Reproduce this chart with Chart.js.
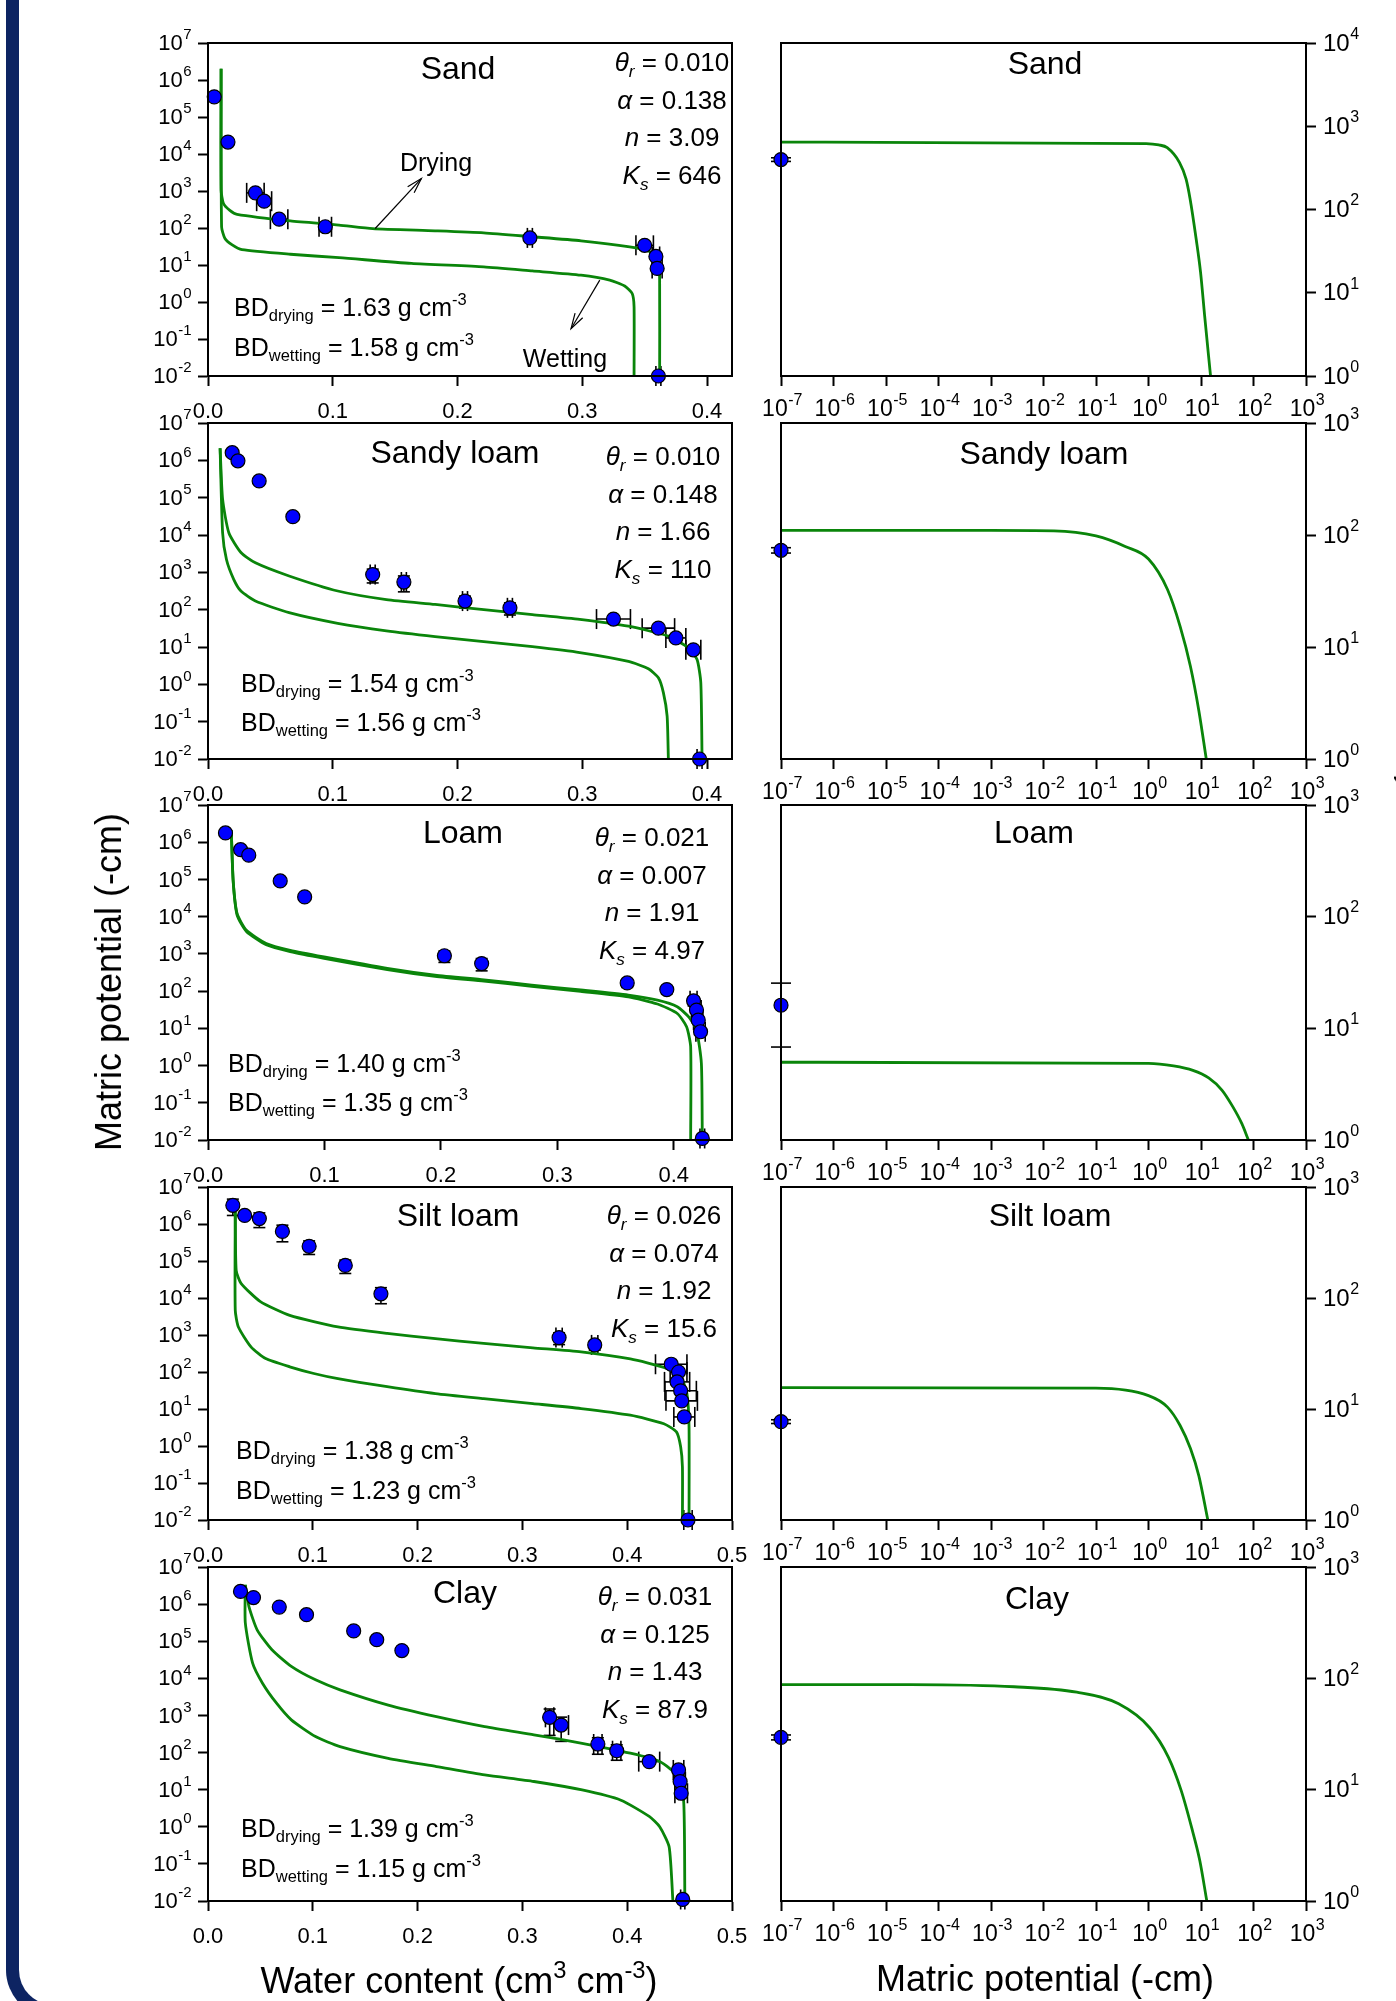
<!DOCTYPE html>
<html><head><meta charset="utf-8">
<script src="https://cdn.jsdelivr.net/npm/chart.js@4.4.1/dist/chart.umd.min.js"></script>
<style>
html,body{margin:0;padding:0;background:#fff;}
body{width:1396px;height:2001px;position:relative;overflow:hidden;font-family:'Liberation Sans',Arial,sans-serif;color:#000;}
canvas{position:absolute;}
.t{position:absolute;white-space:nowrap;line-height:1;}
.t sub{font-size:0.66em;vertical-align:-0.35em;line-height:0;}
.t sup{font-size:0.66em;vertical-align:0.65em;line-height:0;}
.frame{position:absolute;left:6px;top:-60px;width:1500px;height:2078px;border-left:13px solid #0d2462;border-bottom:13px solid #0d2462;border-bottom-left-radius:48px;box-sizing:border-box;}
</style>
</head><body>
<div class="frame"></div>
<script>
// ---------------- text / parameters ----------------
const soilNames = ['Sand','Sandy loam','Loam','Silt loam','Clay'];
const thetaR = ['0.010','0.010','0.021','0.026','0.031'];
const alphaV = ['0.138','0.148','0.007','0.074','0.125'];
const nV     = ['3.09','1.66','1.91','1.92','1.43'];
const KsV    = ['646','110','4.97','15.6','87.9'];
const bdDry  = ['1.63','1.54','1.40','1.38','1.39'];
const bdWet  = ['1.58','1.56','1.35','1.23','1.15'];

// ---------------- axes ----------------
const leftXMax = [0.42,0.42,0.45,0.5,0.5];
const leftXTicksA = [0,0.1,0.2,0.3,0.4];
const leftXTicksB = [0,0.1,0.2,0.3,0.4,0.5];
const leftYTicks = [1e-2,1e-1,1e0,1e1,1e2,1e3,1e4,1e5,1e6,1e7];
const rightXTicks = [1e-7,1e-6,1e-5,1e-4,1e-3,1e-2,1e-1,1e0,1e1,1e2,1e3];
const rightYMax = [1e4,1e3,1e3,1e3,1e3];

// ---------------- Sand ----------------
const sandObsTheta = [0.005,0.016,0.038,0.045,0.057,0.094,0.258,0.350,0.359,0.360,0.361];
const sandObsPsi   = [3.5e5,2.1e4,890,530,173,108,54,34,17,8.1,0.01];
const sandObsThetaSD = [0,0,0.007,0.006,0.007,0.005,0.002,0.007,0.003,0.004,0.002];
const sandObsPsiSD   = [0,0,0,0,0,0,0,0,0,0,0];
const sandDryTheta = [0.0105,0.0105,0.0124,0.0175,0.0233,0.066,0.105,0.132,0.182,0.221,0.260,0.299,0.338,0.353,0.361,0.362,0.362];
const sandDryPsi   = [2.0e6,1050,460,300,234,155,120,96,84,74,58,45,31,24,15,3.2,0.01];
const sandWetTheta = [0.0105,0.0109,0.0136,0.0194,0.0272,0.066,0.105,0.163,0.221,0.260,0.299,0.322,0.334,0.340,0.3415,0.3415];
const sandWetPsi   = [2.0e6,107,52,35,26,19.5,15.8,11,8.9,6.9,5.3,3.9,2.7,1.7,0.74,0.01];
const sandKPsi = [1e-7,0.9,1.57,2.27,3.9,5.2,6.2,8.1,9.8,11.7,15.2];
const sandKVal = [646,620,597,553,366,232,134,44,17.7,5.4,1.0];
const sandKObs = 398, sandKObsSD = 20;

// ---------------- Sandy loam ----------------
const slObsTheta = [0.0194,0.024,0.041,0.068,0.132,0.157,0.206,0.242,0.325,0.361,0.375,0.389,0.394];
const slObsPsi   = [1.6e6,9.7e5,2.8e5,3.1e4,870,550,170,112,56,32,17.5,8.4,0.01];
const slObsThetaSD = [0,0,0,0,0.002,0.002,0.002,0.002,0.0136,0.013,0.008,0.006,0.002];
const slObsPsiSD   = [0,0,0,0,350,250,60,40,0,0,0,0,0];
const slDryTheta = [0.0097,0.0117,0.0167,0.0264,0.038,0.065,0.104,0.143,0.182,0.221,0.260,0.298,0.337,0.369,0.385,0.392,0.395,0.396];
const slDryPsi   = [2.1e6,9.1e4,1.15e4,3400,1800,800,316,186,138,100,74,55,36,19.5,9.5,4.6,1.1,0.01];
const slWetTheta = [0.0097,0.0117,0.0148,0.0206,0.0264,0.038,0.065,0.104,0.143,0.182,0.221,0.260,0.298,0.337,0.353,0.361,0.365,0.368,0.369];
const slWetPsi   = [2.1e6,1.15e4,2200,650,315,170,83,43,27,19,14,10.2,7.1,4.1,2.6,1.5,0.6,0.14,0.01];
const slKPsi = [1e-7,1e-3,0.0158,0.1,0.36,1.0,2.3,4.0,6.3,9.1,12.6];
const slKVal = [110,110,109,98,79,61,32.6,15.3,6.7,2.7,1.0];
const slKObs = 73, slKObsSD = 4;

// ---------------- Loam ----------------
const loObsTheta = [0.015,0.028,0.035,0.062,0.083,0.203,0.235,0.360,0.394,0.417,0.4195,0.421,0.423,0.4245];
const loObsPsi   = [1.78e6,6.3e5,4.5e5,9.1e4,3.4e4,890,550,166,110,55,31,16.6,8.1,0.011];
const loObsThetaSD = [0,0,0,0,0,0,0,0,0,0.003,0.004,0.004,0.004,0.002];
const loObsPsiSD   = [0,0,0,0,0,300,200,40,25,15,10,0,0,0];
const loDryTheta = [0.020,0.0216,0.025,0.033,0.050,0.0706,0.0997,0.154,0.195,0.237,0.278,0.320,0.361,0.386,0.403,0.413,0.4195,0.4237,0.4245];
const loDryPsi   = [2.1e6,9.5e4,1.2e4,4300,1900,1250,830,410,270,200,145,107,78,57,38,20,9,1.15,0.01];
const loWetTheta = [0.020,0.0216,0.025,0.033,0.050,0.0706,0.0997,0.154,0.195,0.237,0.278,0.320,0.361,0.386,0.403,0.411,0.4145,0.4145];
const loWetPsi   = [2.1e6,9e4,1.1e4,4000,1750,1150,760,380,250,185,135,98,70,45,25,11,3.2,0.01];
const loKPsi = [1e-7,1,3,7,14,25,40,60,80];
const loKVal = [4.97,4.85,4.6,4.2,3.6,2.8,2.0,1.4,1.0];
const loKObs = 16.1, loKObsSD = 9.3;

// ---------------- Silt loam ----------------
const siObsTheta = [0.0237,0.035,0.049,0.071,0.0965,0.131,0.165,0.335,0.369,0.442,0.449,0.4476,0.451,0.452,0.4545,0.458];
const siObsPsi   = [3.2e6,1.7e6,1.4e6,6.3e5,2.5e5,7.6e4,1.3e4,850,540,162,100,54,31,16.6,6.1,0.01];
const siObsThetaSD = [0,0,0,0,0,0,0,0.003,0.003,0.015,0.008,0.012,0.015,0.015,0.01,0.004];
const siObsPsiSD   = [1.5e6,0,6e5,3e5,1e5,3e4,6000,300,150,0,0,0,0,0,0,0];
const siDryTheta = [0.026,0.0269,0.0315,0.050,0.078,0.124,0.171,0.217,0.263,0.310,0.356,0.403,0.435,0.451,0.457,0.459,0.459];
const siDryPsi   = [2.1e6,5.6e4,2.5e4,8000,3400,1650,1100,800,590,450,350,225,133,74,26,3.3,0.01];
const siWetTheta = [0.026,0.026,0.029,0.041,0.055,0.078,0.101,0.124,0.171,0.217,0.263,0.310,0.356,0.403,0.435,0.447,0.451,0.4527,0.4527];
const siWetPsi   = [2.1e6,4700,1650,480,230,138,91,66,40,26,19,14,10.3,6.8,4.0,2.4,0.95,0.27,0.01];
const siKPsi = [1e-7,0.1,1,2.3,4.0,6.3,9.1,13.5];
const siKVal = [15.6,15.4,13.2,10.4,7.1,4.4,2.5,1.0];
const siKObs = 7.7, siKObsSD = 0.3;

// ---------------- Clay ----------------
const clObsTheta = [0.031,0.0434,0.068,0.094,0.139,0.161,0.185,0.326,0.337,0.372,0.390,0.421,0.449,0.4505,0.4515,0.453];
const clObsPsi   = [2.2e6,1.5e6,8.3e5,5.2e5,1.9e5,1.1e5,5.6e4,890,550,170,112,57,34,16.5,8.0,0.011];
const clObsThetaSD = [0,0,0,0,0,0,0,0.004,0.007,0.004,0.004,0.01,0.005,0.005,0.006,0.002];
const clObsPsiSD   = [0,0,0,0,0,0,0,600,350,80,50,0,0,0,0,0];
const clDryTheta = [0.0356,0.039,0.047,0.061,0.0795,0.1026,0.126,0.172,0.218,0.264,0.311,0.357,0.403,0.431,0.449,0.454,0.455];
const clDryPsi   = [3.3e6,8.7e5,2.0e5,5.9e4,2.1e4,9100,4900,1900,930,500,300,178,96,57,22,4.3,0.01];
const clWetTheta = [0.0356,0.0356,0.0425,0.052,0.0656,0.0795,0.1026,0.126,0.172,0.218,0.264,0.311,0.357,0.394,0.421,0.431,0.44,0.4436];
const clWetPsi   = [3.3e6,3.1e5,2.6e4,7400,2100,760,270,145,70,42,25,16.6,9.8,5.2,1.9,1.0,0.29,0.01];
const clKPsi = [1e-7,2.9e-5,2.75e-3,0.043,0.27,1.05,2.4,4.2,6.6,9.5,12.9];
const clKVal = [87.9,87.7,84,75,59,36,19.5,9.8,4.6,2.3,1.0];
const clKObs = 29.5, clKObsSD = 1.5;

// Sand annotation arrows (data coordinates: [theta, psi])
const sandArrowDrying = [[0.134,97],[0.171,2170]];
const sandArrowWetting = [[0.314,3.9],[0.291,0.19]];

// ---------------- assemble ----------------
const soils = [
  {obsT:sandObsTheta,obsP:sandObsPsi,obsTSD:sandObsThetaSD,obsPSD:sandObsPsiSD,dT:sandDryTheta,dP:sandDryPsi,wT:sandWetTheta,wP:sandWetPsi,kP:sandKPsi,kV:sandKVal,kO:sandKObs,kOSD:sandKObsSD,arrows:[sandArrowDrying,sandArrowWetting]},
  {obsT:slObsTheta,obsP:slObsPsi,obsTSD:slObsThetaSD,obsPSD:slObsPsiSD,dT:slDryTheta,dP:slDryPsi,wT:slWetTheta,wP:slWetPsi,kP:slKPsi,kV:slKVal,kO:slKObs,kOSD:slKObsSD,arrows:[]},
  {obsT:loObsTheta,obsP:loObsPsi,obsTSD:loObsThetaSD,obsPSD:loObsPsiSD,dT:loDryTheta,dP:loDryPsi,wT:loWetTheta,wP:loWetPsi,kP:loKPsi,kV:loKVal,kO:loKObs,kOSD:loKObsSD,arrows:[]},
  {obsT:siObsTheta,obsP:siObsPsi,obsTSD:siObsThetaSD,obsPSD:siObsPsiSD,dT:siDryTheta,dP:siDryPsi,wT:siWetTheta,wP:siWetPsi,kP:siKPsi,kV:siKVal,kO:siKObs,kOSD:siKObsSD,arrows:[]},
  {obsT:clObsTheta,obsP:clObsPsi,obsTSD:clObsThetaSD,obsPSD:clObsPsiSD,dT:clDryTheta,dP:clDryPsi,wT:clWetTheta,wP:clWetPsi,kP:clKPsi,kV:clKVal,kO:clKObs,kOSD:clKObsSD,arrows:[]}
];

// ---------------- layout (pixel positions of panels) ----------------
const ROWS = [[43,376],[423,759],[805,1140],[1187,1520],[1567,1901]];
const L_LEFT = 208, L_RIGHT = 732, R_LEFT = 781, R_RIGHT = 1306;
const FONT = "'Liberation Sans',Arial,sans-serif";
const GREEN = '#0a850a';
Chart.defaults.font.family = FONT;
Chart.defaults.color = '#000';

const zip = (a,b)=>a.map((v,i)=>({x:v,y:b[i]}));

const framePlugin = {
  id:'frameBox',
  afterDatasetsDraw(chart){
    const {ctx, chartArea:a} = chart;
    ctx.save(); ctx.strokeStyle='#000'; ctx.lineWidth=2;
    ctx.strokeRect(a.left, a.top, a.right-a.left, a.bottom-a.top);
    ctx.restore();
  }
};
// power-of-ten tick labels with a raised exponent, placed by the scale itself
const supTickPlugin = {
  id:'supTicks',
  afterDraw(chart){
    const cfg = chart.options.plugins.supTicks; if(!cfg) return;
    const ctx = chart.ctx;
    ['x','y'].forEach(key=>{
      const o = cfg[key]; const sc = chart.scales[key]; if(!o || !sc) return;
      ctx.save(); ctx.fillStyle='#000'; ctx.textBaseline='middle'; ctx.textAlign='left';
      sc.ticks.forEach(t=>{
        const e = String(Math.round(Math.log10(t.value)));
        const p = sc.getPixelForValue(t.value);
        ctx.font = `${o.size}px ${FONT}`; const wb = ctx.measureText('10').width;
        ctx.font = `${o.esize}px ${FONT}`; const we = ctx.measureText(e).width;
        let x, y;
        if(sc.isHorizontal()){ x = p - (wb+we)/2 + 1; y = sc.top + o.offset; }
        else if(sc.position==='left'){ x = sc.right - o.offset - (wb+we); y = p + 1; }
        else { x = sc.left + o.offset; y = p + 1; }
        ctx.font = `${o.size}px ${FONT}`; ctx.fillText('10', x, y);
        ctx.font = `${o.esize}px ${FONT}`; ctx.fillText(e, x+wb+0.5, y - o.size*0.4);
      });
      ctx.restore();
    });
  }
};
const errorPlugin = {
  id:'errorBars',
  beforeDatasetsDraw(chart){
    const {ctx} = chart; const xs = chart.scales.x, ys = chart.scales.y;
    ctx.save(); ctx.strokeStyle='#000'; ctx.lineWidth=1.6;
    const seg=(a,b,c,d)=>{ctx.beginPath();ctx.moveTo(a,b);ctx.lineTo(c,d);ctx.stroke();};
    chart.data.datasets.forEach(ds=>{
      if(!ds.errX && !ds.errY) return;
      const capX = ds.capX || 10, capY = ds.capY || 10;
      ds.data.forEach((p,i)=>{
        const px = xs.getPixelForValue(p.x), py = ys.getPixelForValue(p.y);
        const ex = ds.errX ? ds.errX[i] : 0, ey = ds.errY ? ds.errY[i] : 0;
        if(ex>0){
          const a = xs.getPixelForValue(p.x-ex), b = xs.getPixelForValue(p.x+ex);
          seg(a,py,b,py); seg(a,py-capX,a,py+capX); seg(b,py-capX,b,py+capX);
        }
        if(ey>0){
          let lo = p.y-ey; if(lo<=0) lo = p.y/10;
          const a = ys.getPixelForValue(lo), b = ys.getPixelForValue(p.y+ey);
          seg(px,a,px,b); seg(px-capY,a,px+capY,a); seg(px-capY,b,px+capY,b);
        }
      });
    });
    ctx.restore();
  }
};
const arrowPlugin = {
  id:'arrows',
  afterDatasetsDraw(chart){
    const list = chart.options.plugins.arrows && chart.options.plugins.arrows.list;
    if(!list || !list.length) return;
    const {ctx} = chart; const xs = chart.scales.x, ys = chart.scales.y;
    ctx.save(); ctx.strokeStyle='#000'; ctx.lineWidth=1.2;
    list.forEach(([f,t])=>{
      const x1=xs.getPixelForValue(f[0]), y1=ys.getPixelForValue(f[1]);
      const x2=xs.getPixelForValue(t[0]), y2=ys.getPixelForValue(t[1]);
      ctx.beginPath(); ctx.moveTo(x1,y1); ctx.lineTo(x2,y2); ctx.stroke();
      const ang=Math.atan2(y2-y1,x2-x1), L=16, w=0.28;
      ctx.beginPath();
      ctx.moveTo(x2-L*Math.cos(ang-w), y2-L*Math.sin(ang-w));
      ctx.lineTo(x2,y2);
      ctx.lineTo(x2-L*Math.cos(ang+w), y2-L*Math.sin(ang+w));
      ctx.stroke();
    });
    ctx.restore();
  }
};

function axisCommon(tickLen, size, pad, show){
  return {
    grid:{display:true, drawOnChartArea:false, drawTicks:true, tickLength:tickLen, tickWidth:2, tickColor:'#000'},
    border:{display:true, color:'#000', width:2},
    ticks:{display:show, color:'#000', font:{family:FONT, size:size}, padding:pad, autoSkip:false, maxRotation:0, minRotation:0}
  };
}
function zeroPad(s){ s.paddingLeft=0; s.paddingRight=0; s.paddingTop=0; s.paddingBottom=0; }

function makeCanvas(left, top, w, h){
  const cv = document.createElement('canvas');
  cv.width=w; cv.height=h;
  cv.style.left=left+'px'; cv.style.top=top+'px';
  cv.style.width=w+'px'; cv.style.height=h+'px';
  document.body.appendChild(cv);
  return cv;
}

soils.forEach((s, i)=>{
  const [y0,y1] = ROWS[i];
  const padTop = 22, xAxisH = 60;
  // ---- left: retention curves ----
  const cLeft = 50, cW = 712, yAxW = L_LEFT - cLeft, padR = cW - (L_RIGHT - cLeft);
  const cvL = makeCanvas(cLeft, y0-padTop, cW, (y1-y0)+padTop+xAxisH);
  const xT = leftXMax[i] >= 0.5 ? leftXTicksB : leftXTicksA;
  const xL = axisCommon(10, 22, 13, true), yL = axisCommon(10, 21, 7, false);
  new Chart(cvL, {
    type:'scatter',
    data:{datasets:[
      {data:zip(s.dT,s.dP), showLine:true, borderColor:GREEN, borderWidth:2.8, pointRadius:0, tension:0.2, order:2},
      {data:zip(s.wT,s.wP), showLine:true, borderColor:GREEN, borderWidth:2.8, pointRadius:0, tension:0.2, order:2},
      {data:zip(s.obsT,s.obsP), showLine:false, pointRadius:7, pointBackgroundColor:'#0000ff', pointBorderColor:'#000', pointBorderWidth:1.2, errX:s.obsTSD, errY:s.obsPSD, capX:10, capY:6, clip:false, order:0}
    ]},
    options:{
      responsive:false, animation:false, devicePixelRatio:1,
      layout:{padding:{top:padTop,left:0,right:padR,bottom:0}},
      plugins:{legend:{display:false}, tooltip:{enabled:false}, arrows:{list:s.arrows},
               supTicks:{y:{size:22, esize:15, offset:17}}},
      scales:{
        x:Object.assign(xL,{type:'linear', min:0, max:leftXMax[i],
          afterBuildTicks:sc=>{sc.ticks = xT.map(v=>({value:v}));},
          afterFit:sc=>{sc.height = xAxisH; zeroPad(sc);},
          ticks:Object.assign(xL.ticks,{callback:v=>Number(v).toFixed(1)})}),
        y:Object.assign(yL,{type:'logarithmic', min:1e-2, max:1e7,
          afterBuildTicks:sc=>{sc.ticks = leftYTicks.map(v=>({value:v}));},
          afterFit:sc=>{sc.width = yAxW; zeroPad(sc);}})
      }
    },
    plugins:[errorPlugin, framePlugin, arrowPlugin, supTickPlugin]
  });

  // ---- right: conductivity ----
  const rLeft = 745, rW = 651, yAxR = 70, padL = R_LEFT - rLeft, padRR = rW - (R_RIGHT - rLeft) - yAxR;
  const cvR = makeCanvas(rLeft, y0-padTop, rW, (y1-y0)+padTop+xAxisH);
  const yMax = rightYMax[i];
  const yT = []; for(let v=1; v<=yMax*1.0001; v*=10) yT.push(v);
  const xR = axisCommon(10, 23, 10, false), yR = axisCommon(10, 23, 7, false);
  new Chart(cvR, {
    type:'scatter',
    data:{datasets:[
      {data:zip(s.kP,s.kV), showLine:true, borderColor:GREEN, borderWidth:2.8, pointRadius:0, cubicInterpolationMode:'monotone', order:2},
      {data:[{x:1e-7,y:s.kO}], showLine:false, pointRadius:7, pointBackgroundColor:'#0000ff', pointBorderColor:'#000', pointBorderWidth:1.2, errY:[s.kOSD], capY:10, clip:false, order:0}
    ]},
    options:{
      responsive:false, animation:false, devicePixelRatio:1,
      layout:{padding:{top:padTop,left:padL,right:padRR,bottom:0}},
      plugins:{legend:{display:false}, tooltip:{enabled:false},
               supTicks:{x:{size:23, esize:16, offset:34}, y:{size:24, esize:16, offset:17}}},
      scales:{
        x:Object.assign(xR,{type:'logarithmic', min:1e-7, max:1e3,
          afterBuildTicks:sc=>{sc.ticks = rightXTicks.map(v=>({value:v}));},
          afterFit:sc=>{sc.height = xAxisH; zeroPad(sc);}}),
        y:Object.assign(yR,{type:'logarithmic', position:'right', min:1, max:yMax,
          afterBuildTicks:sc=>{sc.ticks = yT.map(v=>({value:v}));},
          afterFit:sc=>{sc.width = yAxR; zeroPad(sc);}})
      }
    },
    plugins:[errorPlugin, framePlugin, supTickPlugin]
  });
});

// ---------------- text overlays ----------------
function txt(html, x, y, size, anchor, extra){
  const d = document.createElement('div');
  d.className='t'; d.innerHTML = html;
  d.style.left = x+'px'; d.style.top = y+'px'; d.style.fontSize = size+'px';
  const tx = anchor==='left' ? '0' : (anchor==='right' ? '-100%' : '-50%');
  d.style.transform = `translate(${tx},-50%)` + (extra||'');
  document.body.appendChild(d);
  return d;
}
const nameX=[458,455,463,458,465], nameDy=[25,29,27,28,25];
const parX=[672,663,652,664,655], parDy=[19,33,32,28,29];
const bdX=[234,241,228,236,241], bd1Up=[69,76,77,70,73], bd2Up=[29,37,38,30,33];
const rNameX=[1045,1044,1034,1050,1037], rNameDy=[20,30,27,28,31];
soilNames.forEach((nm,i)=>{
  const [y0,y1] = ROWS[i];
  txt(nm, nameX[i], y0+nameDy[i], 32, 'center');
  txt(nm, rNameX[i], y0+rNameDy[i], 32, 'center');
  const py = y0+parDy[i];
  txt(`<i>&theta;<sub>r</sub></i> = ${thetaR[i]}`, parX[i], py, 26, 'center');
  txt(`<i>&alpha;</i> = ${alphaV[i]}`, parX[i], py+37.5, 26, 'center');
  txt(`<i>n</i> = ${nV[i]}`, parX[i], py+75, 26, 'center');
  txt(`<i>K<sub>s</sub></i> = ${KsV[i]}`, parX[i], py+112.5, 26, 'center');
  txt(`BD<sub>drying</sub> = ${bdDry[i]} g cm<sup>-3</sup>`, bdX[i], y1-bd1Up[i], 25, 'left');
  txt(`BD<sub>wetting</sub> = ${bdWet[i]} g cm<sup>-3</sup>`, bdX[i], y1-bd2Up[i], 25, 'left');
});
txt('Drying', 436, 162, 25, 'center');
txt('Wetting', 565, 358, 25, 'center');
txt('Matric potential (-cm)', 109, 982, 36, 'center', ' rotate(-90deg)');
txt('Water content (cm<sup>3</sup> cm<sup>-3</sup>)', 459, 1981, 36, 'center');
txt('Matric potential (-cm)', 1045, 1979, 36, 'center');
txt('Hydraulic conductivity (cm d<sup>-1</sup>)', 1414, 1000, 36, 'center', ' rotate(-90deg)');
</script>
</body></html>
